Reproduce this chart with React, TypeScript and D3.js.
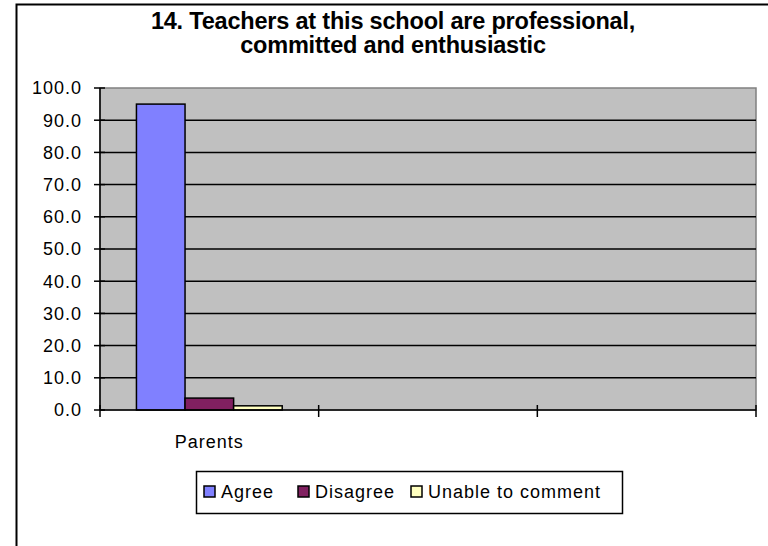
import { useEffect, useRef } from 'react'
import * as d3 from 'd3'

const titleLines = ['14. Teachers at this school are professional,', 'committed and enthusiastic']
const categories = ['Parents', '', '']
const seriesNames = ['Agree', 'Disagree', 'Unable to comment']
const seriesColors = ['#8080FF', '#802060', '#FFFFC0']
// one value per category; the empty categories have no data
const agree = [95.0, null, null]
const disagree = [3.7, null, null]
const unable = [1.3, null, null]
const yTicks = [0, 10, 20, 30, 40, 50, 60, 70, 80, 90, 100]

export default function App() {
  const ref = useRef<SVGSVGElement>(null)

  useEffect(() => {
    if (!ref.current) return
    const svg = d3.select(ref.current)
    svg.selectAll('*').remove()

    const width = 768
    const height = 546
    const plot = { left: 100, right: 756, top: 88, bottom: 410 }
    const font = 'Liberation Sans, Arial, sans-serif'

    svg.append('rect').attr('width', width).attr('height', height).attr('fill', '#ffffff')
    // chart frame, runs off the right and bottom edge
    svg.append('rect')
      .attr('x', 16.5).attr('y', 4.5).attr('width', 800).attr('height', 600)
      .attr('fill', 'none').attr('stroke', '#000').attr('stroke-width', 2)

    // title
    svg.append('g').selectAll('text')
      .data(titleLines)
      .enter()
      .append('text')
      .attr('x', 393)
      .attr('y', (d, i) => 29 + i * 24)
      .attr('text-anchor', 'middle')
      .style('font-family', font)
      .style('font-weight', 'bold')
      .style('font-size', '23.5px')
      .style('letter-spacing', '-0.2px')
      .text(d => d)

    const x = d3.scaleBand<number>()
      .domain(categories.map((_, i) => i))
      .range([plot.left, plot.right])
    const inner = d3.scaleBand<number>()
      .domain(seriesNames.map((_, i) => i))
      .range([0, x.bandwidth()])
      .paddingInner(0)
      .paddingOuter(0.75)
    const y = d3.scaleLinear().domain([0, 100]).range([plot.bottom, plot.top])

    // plot area
    svg.append('rect')
      .attr('x', plot.left).attr('y', plot.top)
      .attr('width', plot.right - plot.left).attr('height', plot.bottom - plot.top)
      .attr('fill', '#C0C0C0').attr('stroke', '#808080').attr('stroke-width', 1.5)

    // gridlines
    svg.append('g').selectAll('line')
      .data(yTicks.filter(t => t > 0 && t < 100))
      .enter()
      .append('line')
      .attr('x1', plot.left).attr('x2', plot.right)
      .attr('y1', d => y(d)).attr('y2', d => y(d))
      .attr('stroke', '#000').attr('stroke-width', 1.5)

    // bars
    const series = [agree, disagree, unable]
    series.forEach((vals, s) => {
      svg.append('g').selectAll('rect')
        .data(vals.map((v, i) => ({ v, i })).filter(d => d.v != null))
        .enter()
        .append('rect')
        .attr('x', d => (x(d.i) as number) + (inner(s) as number))
        .attr('y', d => y(d.v as number))
        .attr('width', inner.bandwidth())
        .attr('height', d => plot.bottom - y(d.v as number))
        .attr('fill', seriesColors[s])
        .attr('stroke', '#000').attr('stroke-width', 1.5)
    })

    // y axis
    const yAxis = svg.append('g')
    yAxis.append('line')
      .attr('x1', plot.left).attr('x2', plot.left)
      .attr('y1', plot.top).attr('y2', plot.bottom)
      .attr('stroke', '#000').attr('stroke-width', 1.5)
    yAxis.selectAll('line.tick')
      .data(yTicks)
      .enter()
      .append('line')
      .attr('class', 'tick')
      .attr('x1', plot.left - 6).attr('x2', plot.left + 5)
      .attr('y1', d => y(d)).attr('y2', d => y(d))
      .attr('stroke', '#000').attr('stroke-width', 1.5)
    yAxis.selectAll('text')
      .data(yTicks)
      .enter()
      .append('text')
      .attr('x', 82)
      .attr('y', d => y(d))
      .attr('dy', '0.36em')
      .attr('text-anchor', 'end')
      .style('font-family', font)
      .style('font-size', '18px')
      .style('letter-spacing', '1px')
      .style('fill', '#000')
      .text(d => d.toFixed(1))

    // x axis
    const xAxis = svg.append('g')
    xAxis.append('line')
      .attr('x1', plot.left).attr('x2', plot.right)
      .attr('y1', plot.bottom).attr('y2', plot.bottom)
      .attr('stroke', '#000').attr('stroke-width', 1.5)
    const xTickPos = categories.map((_, i) => x(i) as number).concat([plot.right])
    xAxis.selectAll('line.tick')
      .data(xTickPos)
      .enter()
      .append('line')
      .attr('class', 'tick')
      .attr('x1', d => d).attr('x2', d => d)
      .attr('y1', plot.bottom - 5).attr('y2', plot.bottom + 7)
      .attr('stroke', '#000').attr('stroke-width', 1.5)
    xAxis.selectAll('text')
      .data(categories)
      .enter()
      .append('text')
      .attr('x', (d, i) => (x(i) as number) + x.bandwidth() / 2)
      .attr('y', 448)
      .attr('text-anchor', 'middle')
      .style('font-family', font)
      .style('font-size', '18px')
      .style('letter-spacing', '1px')
      .text(d => d)

    // legend
    const legend = svg.append('g')
    legend.append('rect')
      .attr('x', 196.5).attr('y', 471.5).attr('width', 426).attr('height', 42)
      .attr('fill', '#fff').attr('stroke', '#000').attr('stroke-width', 1.5)
    const legendX = [204, 298, 411]
    seriesNames.forEach((name, i) => {
      legend.append('rect')
        .attr('x', legendX[i]).attr('y', 486).attr('width', 11).attr('height', 11)
        .attr('fill', seriesColors[i]).attr('stroke', '#000').attr('stroke-width', 1.5)
      legend.append('text')
        .attr('x', legendX[i] + 17).attr('y', 498)
        .style('font-family', font)
        .style('font-size', '18px')
        .style('letter-spacing', '1px')
        .text(name)
    })
  }, [])

  return (
    <svg
      ref={ref}
      width={768}
      height={546}
      style={{ position: 'absolute', left: 0, top: 0, display: 'block' }}
    />
  )
}
